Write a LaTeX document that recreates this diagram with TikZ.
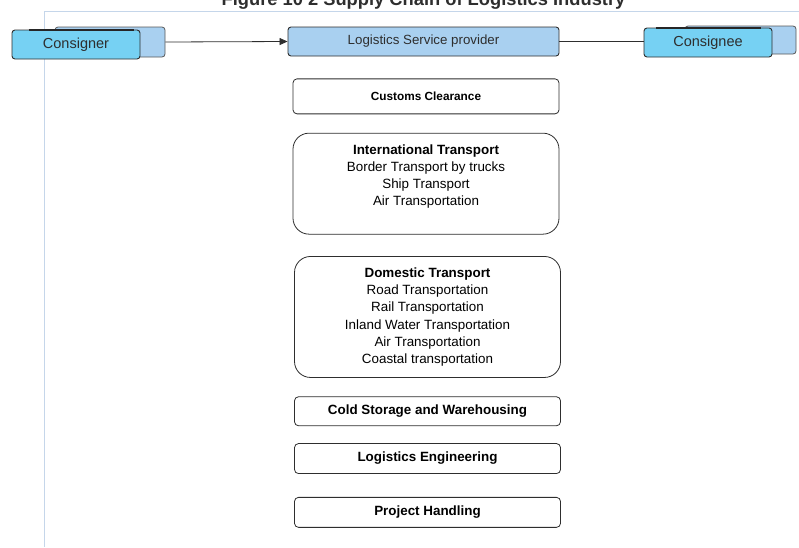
\documentclass[tikz,border=0pt]{standalone}
\usepackage{fontspec}
\setmainfont{Liberation Sans}
\usepackage{xcolor}
\usetikzlibrary{arrows.meta,positioning}
\definecolor{frontblue}{HTML}{76D1F3}
\definecolor{paleblue}{HTML}{A9D0F0}
\definecolor{framecol}{HTML}{C5D6EA}
\definecolor{inkgray}{HTML}{2E2E2E}

\begin{document}
\begin{tikzpicture}[x=1pt, y=-1pt,
  party/.style={draw=inkgray, fill=frontblue, rounded corners=3pt, line width=0.9pt, minimum width=128pt, minimum height=29pt, inner sep=0pt, text=inkgray, font=\fontsize{14.5}{17}\selectfont},
  partybk/.style={draw=inkgray!80, fill=paleblue, rounded corners=3pt, line width=0.8pt, inner sep=0pt},
  prov/.style={draw=inkgray, fill=paleblue, rounded corners=3pt, line width=0.9pt, minimum width=271pt, minimum height=29pt, inner sep=0pt, text=inkgray, font=\fontsize{13.3}{17}\selectfont},
  svcbox/.style={draw=inkgray, fill=white, rounded corners=4pt, line width=0.8pt, minimum width=266pt, inner sep=0pt, align=center, text=black, font=\bfseries\fontsize{13.4}{17.2}\selectfont},
  grpbox/.style={svcbox, rounded corners=16pt, font=\fontsize{13.4}{17.2}\selectfont},
  arr/.style={-{Triangle[length=8pt, width=7pt]}, line width=0.8pt, inkgray},
  topline/.style={line width=2pt, black!85}]
\useasboundingbox (0,0) rectangle (799,547);
% page frame and cut-off caption
\draw[framecol, line width=0.9pt] (799,11) -- (44,11) -- (44,547);
\node[anchor=base, font=\bfseries\fontsize{18.3}{20}\selectfont, text=inkgray] (title) at (423.5,5.5) {Figure 10 2 Supply Chain of Logistics Industry};
% parties
\node[partybk, minimum width=110pt, minimum height=30pt] (cnrbk) at (110,42) {};
\node[party] (cnr) at (76,44.5) {Consigner};
\draw[topline] ([xshift=17pt]cnr.north west) -- ([xshift=-6pt]cnr.north east);
\node[partybk, minimum width=111pt, minimum height=28pt] (cneebk) at (740.5,40) {};
\node[party] (cnee) at (708,42.5) {Consignee};
\draw[topline] ([xshift=12pt]cnee.north west) -- ([xshift=-11pt]cnee.north east);
\node[prov] (lsp) at (423.5,41.5) {Logistics Service provider};
% services
\node[svcbox, minimum height=35pt, font=\bfseries\fontsize{11.8}{15}\selectfont, below=22pt of lsp, xshift=2.5pt] (customs) {Customs Clearance};
\node[grpbox, minimum height=101pt, below=18.5pt of customs] (intl) {\textbf{International Transport}\\Border Transport by trucks\\Ship Transport\\Air Transportation\\ \mbox{}};
\node[grpbox, minimum height=121pt, below=21.5pt of intl, xshift=1.5pt] (dom) {\textbf{Domestic Transport}\\Road Transportation\\Rail Transportation\\Inland Water Transportation\\Air Transportation\\Coastal transportation};
\node[svcbox, minimum height=29pt, below=18.5pt of dom] (cold) {Cold Storage and Warehousing};
\node[svcbox, minimum height=30pt, below=17pt of cold] (eng) {Logistics Engineering};
\node[svcbox, minimum height=30pt, below=23pt of eng] (proj) {Project Handling};
% flow
\draw[arr] (cnrbk.east) -- (lsp.west);
\draw[line width=0.8pt, inkgray] (lsp.east) -- (cnee.west|-lsp.east);
\end{tikzpicture}
\end{document}
